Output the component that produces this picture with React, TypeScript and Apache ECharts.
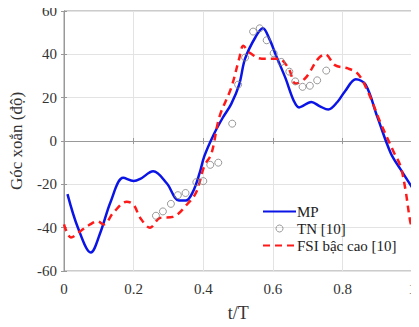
import React, { useEffect, useRef } from "react";
import * as echarts from "echarts";

const xTicks = [0, 0.2, 0.4, 0.6, 0.8, 1];
const yTicks = [-60, -40, -20, 0, 20, 40, 60];

const mpT = [0.01, 0.04, 0.077, 0.105, 0.134, 0.17, 0.2, 0.219, 0.256, 0.295, 0.33, 0.35, 0.37, 0.39, 0.403, 0.43, 0.455, 0.48, 0.503, 0.52, 0.55, 0.571, 0.59, 0.61, 0.636, 0.66, 0.675, 0.71, 0.735, 0.759, 0.785, 0.807, 0.838, 0.866, 0.9, 0.938, 0.966, 1.0];
const mpY = [-24.5, -40, -51.5, -42, -28, -17, -18.5, -17.5, -14, -19.5, -27.5, -27.5, -23.5, -14.5, -7, 3, 10.5, 17, 26, 38, 48, 52, 47, 39, 29, 18.5, 15.5, 18, 16, 14.5, 18, 23, 28.5, 26, 11, -5.5, -13, -21.5];

const fsiT = [0, 0.02, 0.048, 0.075, 0.096, 0.114, 0.142, 0.18, 0.2, 0.219, 0.247, 0.276, 0.313, 0.352, 0.38, 0.403, 0.423, 0.446, 0.48, 0.503, 0.515, 0.531, 0.568, 0.597, 0.616, 0.645, 0.665, 0.693, 0.73, 0.75, 0.778, 0.815, 0.844, 0.872, 0.91, 0.948, 0.966, 0.98, 0.994, 1.0];
const fsiY = [-38.5, -44.5, -41.5, -38.5, -37, -38.5, -33, -28, -29.5, -35.5, -40, -35.5, -35, -29.5, -23.5, -11.5, -6, 11, 24.5, 38, 44, 41, 38, 38, 38, 33.5, 26.5, 29, 38, 40, 35, 33.5, 31, 23, 8, -5.5, -11.5, -22, -37, -40];

const tnT = [0.264, 0.284, 0.307, 0.327, 0.349, 0.38, 0.4, 0.42, 0.443, 0.483, 0.5, 0.52, 0.543, 0.562, 0.582, 0.602, 0.624, 0.647, 0.664, 0.685, 0.706, 0.727, 0.753];
const tnY = [-34.5, -32.5, -29, -25, -24, -19, -18.5, -11, -10, 8, 26, 38.5, 50.5, 52, 46.5, 40.5, 36.5, 32, 27.5, 25, 25.5, 28, 32.5];

const seriesNames = ["MP", "TN [10]", "FSI bậc cao [10]"];
const xName = "t/T";
const yName = "Góc xoắn (độ)";

const FONT = "'Liberation Serif', 'Times New Roman', serif";

export default function App() {
  const ref = useRef<HTMLDivElement>(null);
  useEffect(() => {
    const chart = echarts.init(ref.current!, undefined, { renderer: "svg" });
    const zip = (a: number[], b: number[]) => a.map((v, i) => [v, b[i]]);
    const axisCommon = {
      type: "value" as const,
      axisLine: { show: true, lineStyle: { color: "#999", width: 1 } },
      axisTick: { show: true, inside: true, length: 3, lineStyle: { color: "#999" } },
    };
    const circleStyle = { color: "rgba(255,255,255,0)", borderColor: "#808080", borderWidth: 1 };
    chart.setOption({
      animation: false,
      backgroundColor: "#fff",
      grid: { left: 63, right: 4, top: 11, bottom: 49, show: true, borderColor: "#999", borderWidth: 1 },
      xAxis: [
        {
          ...axisCommon,
          min: xTicks[0],
          max: xTicks[xTicks.length - 1],
          interval: 0.2,
          name: xName,
          nameLocation: "middle",
          nameGap: 33,
          nameTextStyle: { fontFamily: FONT, fontSize: 18, color: "#333" },
          axisLabel: { fontFamily: FONT, fontSize: 15, color: "#333", margin: 10, formatter: (v: number) => String(+v.toFixed(1)) },
          splitLine: { show: true, lineStyle: { color: "#e3e3e3", width: 1 } },
        },
        {
          ...axisCommon,
          position: "top",
          min: xTicks[0],
          max: xTicks[xTicks.length - 1],
          interval: 0.2,
          axisLabel: { show: false },
          splitLine: { show: false },
        },
      ],
      yAxis: [
        {
          ...axisCommon,
          min: yTicks[0],
          max: yTicks[yTicks.length - 1],
          interval: 20,
          name: yName,
          nameLocation: "middle",
          nameGap: 39,
          nameTextStyle: { fontFamily: FONT, fontSize: 17, color: "#333" },
          axisLabel: { fontFamily: FONT, fontSize: 15, color: "#333", margin: 7 },
          splitLine: { show: true, lineStyle: { color: "#e3e3e3", width: 1 } },
        },
        {
          ...axisCommon,
          position: "right",
          min: yTicks[0],
          max: yTicks[yTicks.length - 1],
          interval: 20,
          axisLabel: { show: false },
          splitLine: { show: false },
        },
      ],
      legend: {
        orient: "vertical",
        left: 257,
        top: 199,
        itemWidth: 33,
        itemHeight: 7,
        itemGap: 2,
        data: [
          { name: seriesNames[0], itemStyle: { opacity: 0 } },
          { name: seriesNames[1], itemStyle: circleStyle },
          { name: seriesNames[2], itemStyle: { opacity: 0 } },
        ],
        textStyle: { fontFamily: FONT, fontSize: 15, color: "#222", padding: [0, 0, 0, -4] },
      },
      series: [
        {
          name: seriesNames[0],
          type: "line",
          data: zip(mpT, mpY),
          smooth: 0.35,
          symbol: "none",
          lineStyle: { color: "#0a14e6", width: 2.5 },
          itemStyle: { color: "#0a14e6" },
          z: 2,
        },
        {
          name: seriesNames[1],
          type: "scatter",
          data: zip(tnT, tnY),
          symbol: "circle",
          symbolSize: 7,
          itemStyle: circleStyle,
          z: 4,
        },
        {
          name: seriesNames[2],
          type: "line",
          data: zip(fsiT, fsiY),
          smooth: 0.35,
          symbol: "none",
          lineStyle: { color: "#ff1a1a", width: 2.5, type: [7, 5] },
          itemStyle: { color: "#ff1a1a" },
          z: 3,
        },
      ],
    });
    return () => chart.dispose();
  }, []);
  return <div ref={ref} style={{ width: 419, height: 327, margin: -8 }} />;
}
